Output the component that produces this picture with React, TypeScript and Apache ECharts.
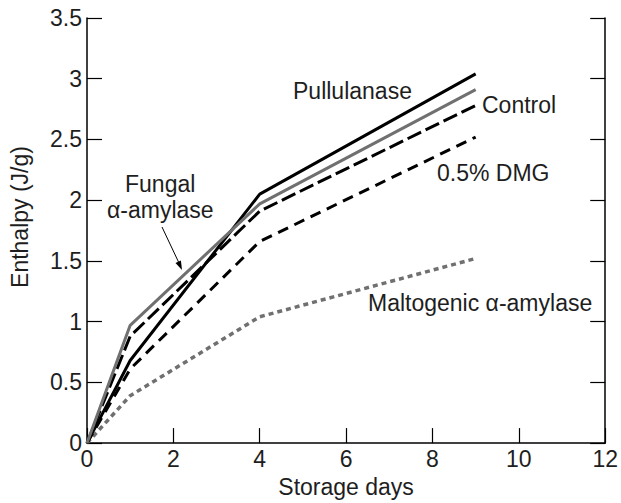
import React, { useEffect, useRef } from "react";
import * as echarts from "echarts";

const days = [0, 1, 4, 9];
const pullulanase = [0, 0.68, 2.05, 3.04];
const control = [0, 0.97, 1.97, 2.91];
const fungal = [0, 0.88, 1.91, 2.78];
const dmg = [0, 0.61, 1.66, 2.52];
const maltogenic = [0, 0.39, 1.04, 1.52];

const FONT = "Liberation Sans";
const TXT = "#1e1e1e";
const FS = 23;

function pairs(ys: number[]) {
  return days.map((d, i) => [d, ys[i]]);
}

export default function App() {
  const ref = useRef<HTMLDivElement>(null);
  useEffect(() => {
    document.body.style.margin = "0";
    const chart = echarts.init(ref.current!, undefined, { renderer: "svg" });
    const axisLine = { show: true, lineStyle: { color: "#000", width: 1.5 } };
    const axisTick = { show: true, inside: true, length: 15, lineStyle: { color: "#000", width: 1.2 } };
    const label = { color: TXT, fontFamily: FONT, fontSize: FS };
    const font = `${FS}px "${FONT}"`;
    const line = (name: string, data: number[], color: string, type: any, width: number, z: number) => ({
      name,
      type: "line",
      data: pairs(data),
      symbol: "none",
      z,
      lineStyle: { color, type, width, cap: "butt" },
    });
    const txt = (text: string, x: number, y: number) => ({
      type: "text",
      x,
      y,
      style: { text, fill: TXT, font, align: "left", verticalAlign: "middle" },
    });
    chart.setOption({
      animation: false,
      grid: { left: 87, right: 15, top: 18, bottom: 58, containLabel: false },
      xAxis: {
        type: "value",
        min: 0,
        max: 12,
        interval: 2,
        name: "Storage days",
        nameLocation: "middle",
        nameGap: 31,
        nameTextStyle: { ...label },
        axisLine,
        axisTick,
        axisLabel: { ...label, margin: 4 },
        splitLine: { show: false },
      },
      yAxis: [
        {
          type: "value",
          min: 0,
          max: 3.5,
          interval: 0.5,
          axisLine,
          axisTick,
          axisLabel: { ...label, margin: 5 },
          splitLine: { show: false },
        },
        {
          type: "value",
          position: "right",
          min: 0,
          max: 3.5,
          interval: 0.5,
          axisLine,
          axisTick,
          axisLabel: { show: false },
          splitLine: { show: false },
        },
      ],
      series: [
        line("Maltogenic α-amylase", maltogenic, "#707070", [5, 4], 3.5, 1),
        line("0.5% DMG", dmg, "#000", [11, 7], 3, 2),
        line("Fungal α-amylase", fungal, "#000", [15, 5], 3, 3),
        line("Pullulanase", pullulanase, "#000", "solid", 3, 4),
        line("Control", control, "#707070", "solid", 3, 5),
      ],
      graphic: [
        {
          type: "text",
          x: 20,
          y: 217,
          rotation: Math.PI / 2,
          style: { text: "Enthalpy (J/g)", fill: TXT, font, align: "center", verticalAlign: "middle" },
        },
        txt("Pullulanase", 293, 91),
        txt("Control", 482, 105),
        txt("0.5% DMG", 437, 173),
        txt("Maltogenic α-amylase", 368, 303),
        txt("Fungal", 125, 184),
        txt("α-amylase", 107, 210),
        {
          type: "line",
          shape: { x1: 162, y1: 227, x2: 179, y2: 263 },
          style: { stroke: "#000", lineWidth: 1 },
        },
        {
          type: "polygon",
          shape: { points: [[182, 270], [180.9, 260.5], [175.5, 263.1]] },
          style: { fill: "#000" },
        },
      ],
    });
    return () => chart.dispose();
  }, []);
  return <div ref={ref} style={{ width: 621, height: 503 }} />;
}
